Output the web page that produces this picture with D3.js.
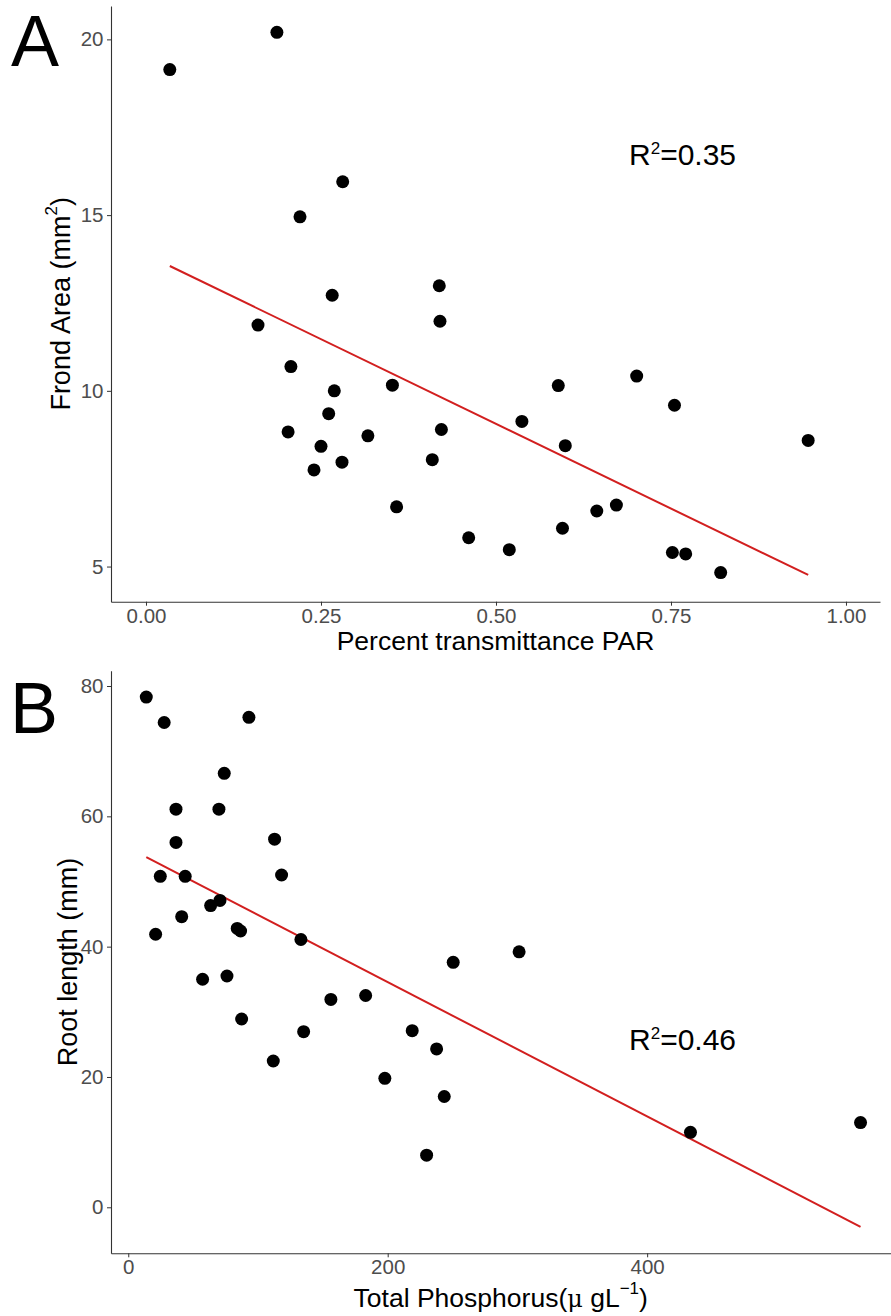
<!DOCTYPE html>
<html><head><meta charset="utf-8">
<script src="https://cdn.jsdelivr.net/npm/d3@7"></script>
<style>
body{margin:0;background:#fff}
svg{display:block}
text{font-family:"Liberation Sans", Arial, Helvetica, sans-serif}
</style>
</head><body>
<svg id="c" width="891" height="1316"></svg>
<script>
// ---- Panel A data ----
const parA  = [0.034,0.187,0.281,0.220,0.266,0.419,0.420,0.160,0.207,0.269,0.261,0.203,0.250,0.317,0.280,0.240,0.352,0.358,0.422,0.409,0.589,0.701,0.755,0.537,0.599,0.946,0.672,0.644,0.595,0.461,0.519,0.752,0.771,0.821];
const areaA = [19.14,20.20,15.95,14.95,12.72,12.99,11.98,11.87,10.69,10.00,9.35,8.83,8.42,8.72,7.97,7.75,10.16,6.70,8.90,8.04,10.15,10.42,9.59,9.13,8.44,8.59,6.75,6.58,6.09,5.82,5.48,5.40,5.36,4.83];
const fitA  = [13.88, -9.64];          // intercept, slope
const xTicksA = [0, 0.25, 0.5, 0.75, 1];
const yTicksA = [5, 10, 15, 20];
const r2A = "0.35";

// ---- Panel B data ----
const tpB   = [13.9,27.7,93.0,74.0,36.8,69.9,36.8,112.8,24.7,43.9,118.2,70.7,63.5,41.2,21.1,84.0,86.6,133.1,57.3,76.1,156.2,183.0,87.4,135.2,111.8,218.9,237.7,197.8,243.6,230.0,250.5,301.3,433.4,564.5];
const rootB = [78.3,74.4,75.2,66.6,61.1,61.1,56.0,56.5,50.8,50.8,51.0,47.1,46.3,44.6,41.9,42.8,42.4,41.1,35.0,35.5,31.9,32.5,28.9,26.95,22.45,27.1,24.3,19.8,17.0,8.0,37.6,39.2,11.5,13.0];
const fitB  = [55.18, -0.1031];
const xTicksB = [0, 200, 400];
const yTicksB = [0, 20, 40, 60, 80];
const r2B = "0.46";

const svg = d3.select("#c");

function panel(o){
  const g = svg.append("g");
  const x = d3.scaleLinear().domain(o.xd).range([o.left, o.right]);
  const y = d3.scaleLinear().domain(o.yd).range([o.bottom, o.top]);

  const xa = g.append("g").attr("transform",`translate(0,${o.bottom})`)
    .call(d3.axisBottom(x).tickValues(o.xt).tickFormat(o.xf).tickSize(4).tickPadding(2.5).tickSizeOuter(0));
  const ya = g.append("g").attr("transform",`translate(${o.left},0)`)
    .call(d3.axisLeft(y).tickValues(o.yt).tickFormat(d3.format("d")).tickSize(4).tickPadding(3.5).tickSizeOuter(0));
  [xa,ya].forEach(a=>{
    a.select(".domain").attr("stroke","#333").attr("stroke-width",1.1);
    a.selectAll(".tick line").attr("stroke","#333").attr("stroke-width",1);
    a.selectAll(".tick text").attr("fill","#4d4d4d").style("font-size","20.5px");
  });

  // fit line across data range
  const [x0,x1] = d3.extent(o.xs);
  const line = d3.line().x(d=>x(d)).y(d=>y(o.fit[0]+o.fit[1]*d));
  g.append("path").attr("d", line([x0,x1])).attr("fill","none")
    .attr("stroke","#d21f1f").attr("stroke-width",2);

  g.selectAll("circle.pt").data(o.xs.map((v,i)=>[v,o.ys[i]])).join("circle")
    .attr("class","pt").attr("cx",d=>x(d[0])).attr("cy",d=>y(d[1])).attr("r",6.5).attr("fill","#000");

  // panel letter
  g.append("text").attr("x",o.letterX).attr("y",o.letterY).text(o.letter)
    .style("font-size","72px").attr("fill","#000");

  // R^2
  const t = g.append("text").attr("x",o.r2x).attr("y",o.r2y).style("font-size","30px").attr("fill","#000");
  t.append("tspan").text("R");
  t.append("tspan").text("2").style("font-size","17px").attr("dy","-11");
  t.append("tspan").text("=" + o.r2).attr("dy","11");

  // y title
  const yt = g.append("text").attr("transform",`translate(${o.ytx},${(o.top+o.bottom)/2}) rotate(-90)`)
    .attr("text-anchor","middle").style("font-size","27px").attr("fill","#000");
  o.ytitle(yt);
  // x title
  const xt = g.append("text").attr("x",(o.left+o.right)/2).attr("y",o.xty)
    .attr("text-anchor","middle").style("font-size","26.5px").attr("fill","#000");
  o.xtitle(xt);
}

panel({
  xd:[-0.05,1.0486], yd:[4.0,20.95], left:111, right:880, top:6, bottom:601.7,
  xt:xTicksA, yt:yTicksA, xf:d3.format(".2f"), xs:parA, ys:areaA, fit:fitA,
  letter:"A", letterX:11, letterY:66, r2:r2A, r2x:629, r2y:165,
  ytx:70, xty:650,
  ytitle:t=>{ t.append("tspan").text("Frond Area (mm");
              t.append("tspan").text("2").style("font-size","17px").attr("dy","-13");
              t.append("tspan").text(")").attr("dy","13"); },
  xtitle:t=>{ t.text("Percent transmittance PAR"); }
});

panel({
  xd:[-13.3,587.6], yd:[-7.06,82.35], left:111, right:890.5, top:670.7, bottom:1253.3,
  xt:xTicksB, yt:yTicksB, xf:d3.format("d"), xs:tpB, ys:rootB, fit:fitB,
  letter:"B", letterX:10, letterY:733, r2:r2B, r2x:629, r2y:1050,
  ytx:76.5, xty:1306.5,
  ytitle:t=>{ t.text("Root length (mm)"); },
  xtitle:t=>{ t.append("tspan").text("Total Phosphorus(");
              t.append("tspan").text("μ").style("font-family","'DejaVu Serif', 'Liberation Serif', serif").style("font-size","24px");
              t.append("tspan").text(" gL");
              t.append("tspan").text("−1").style("font-size","17px").attr("dy","-13");
              t.append("tspan").text(")").attr("dy","13"); }
});
</script>
</body></html>
